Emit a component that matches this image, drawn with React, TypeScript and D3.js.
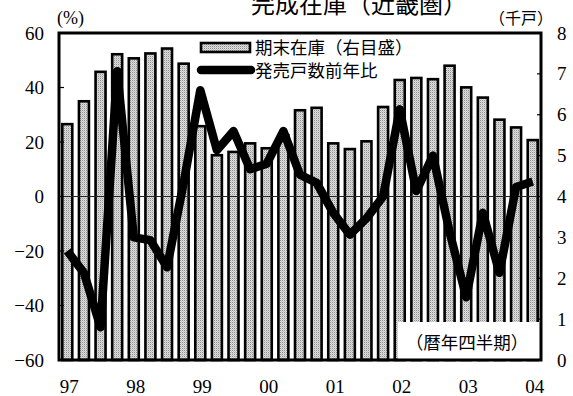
import React from "react";
import * as d3 from "d3";

const periods: string[] = [
  "97Q1","97Q2","97Q3","97Q4","98Q1","98Q2","98Q3","98Q4",
  "99Q1","99Q2","99Q3","99Q4","00Q1","00Q2","00Q3","00Q4",
  "01Q1","01Q2","01Q3","01Q4","02Q1","02Q2","02Q3","02Q4",
  "03Q1","03Q2","03Q3","03Q4","04Q1",
];
// 期末在庫（千戸, right axis）
const inventory: number[] = [
  5.77, 6.33, 7.05, 7.48, 7.38, 7.5, 7.62, 7.25,
  5.72, 5.01, 5.09, 5.3, 5.18, 5.5, 6.11, 6.17,
  5.3, 5.16, 5.35, 6.19, 6.85, 6.9, 6.87, 7.2,
  6.67, 6.42, 5.88, 5.69, 5.38,
];
// 発売戸数前年比（%, left axis）
const salesYoY: number[] = [
  -20, -28, -48, 46, -15, -16, -26, 5,
  39, 17, 24, 10, 12, 24, 8, 5,
  -6, -14, -8, 0, 32, 2, 15, -13,
  -37, -6, -28, 3.5, 5.5,
];
const yearLabels: string[] = ["97", "98", "99", "00", "01", "02", "03", "04"];
const leftTicks: number[] = [60, 40, 20, 0, -20, -40, -60];
const rightTicks: number[] = [0, 1, 2, 3, 4, 5, 6, 7, 8];

const W = 573, H = 396;
const L = 59, R = 541, T = 33, B = 360;
const serif = "'Liberation Serif', 'DejaVu Serif', serif";
const jp = "'Noto Sans CJK JP', sans-serif";

export default function App() {
  const x = d3.scaleBand<number>()
    .domain(d3.range(periods.length))
    .range([L, R])
    .paddingInner(0.4)
    .paddingOuter(0.2);
  const yL = d3.scaleLinear().domain([-60, 60]).range([B, T]);
  const yR = d3.scaleLinear().domain([0, 8]).range([B, T]);
  const cx = (i: number) => (x(i) as number) + x.bandwidth() / 2;
  const line = d3.line<number>()
    .x((_, i) => cx(i))
    .y((d) => yL(d))
    .curve(d3.curveLinear);
  const minus = (v: number) => (v < 0 ? "\u2212" + Math.abs(v) : String(v));

  return (
    <svg width={W} height={H} style={{ position: "absolute", left: 0, top: 0, background: "#fff" }}>
      <defs>
        <pattern id="dots" width={2} height={2} patternUnits="userSpaceOnUse">
          <rect width={2} height={2} fill="#dedede" />
          <rect width={1} height={1} fill="#909090" />
          <rect x={1} y={1} width={1} height={1} fill="#c4c4c4" />
        </pattern>
      </defs>
      {/* title */}
      <text x={359} y={13} fontFamily={jp} fontSize={24} textAnchor="middle" fill="#000">
        完成在庫（近畿圏）
      </text>
      {/* bars */}
      {inventory.map((v, i) => (
        <rect key={"b" + i} x={x(i)} y={yR(v)} width={x.bandwidth()} height={B - yR(v)}
          fill="url(#dots)" stroke="#000" strokeWidth={2.6} />
      ))}
      {/* zero line */}
      <line x1={L} x2={R} y1={yL(0)} y2={yL(0)} stroke="#222" strokeWidth={1} />
      {/* calendar quarter note box */}
      <rect x={398} y={322} width={R - 398} height={B - 322} fill="#fff" />
      <text x={467} y={349} fontFamily={jp} fontSize={17.5} textAnchor="middle" fill="#000">
        （暦年四半期）
      </text>
      {/* line */}
      <path d={line(salesYoY) || ""} fill="none" stroke="#000" strokeWidth={8.5} strokeLinejoin="round" />
      {/* legend */}
      <rect x={201} y={43} width={49} height={9} fill="url(#dots)" stroke="#000" strokeWidth={2.6} />
      <text x={255} y={54} fontFamily={jp} fontSize={17.5} fill="#000">期末在庫（右目盛）</text>
      <line x1={201} x2={251} y1={70} y2={70} stroke="#000" strokeWidth={8.5} strokeLinecap="round" />
      <text x={255} y={77} fontFamily={jp} fontSize={17.5} fill="#000">発売戸数前年比</text>
      {/* frame */}
      <rect x={L} y={T} width={R - L} height={B - T} fill="none" stroke="#000" strokeWidth={3} />
      {/* left ticks */}
      {leftTicks.map((t) => (
        <g key={"l" + t}>
          {t !== 60 && t !== -60 && (
            <line x1={L} x2={L + 5} y1={yL(t)} y2={yL(t)} stroke="#000" strokeWidth={1.2} />
          )}
          <text x={44} y={yL(t) + 6.5} fontFamily={serif} fontSize={19} textAnchor="end" fill="#000">
            {minus(t)}
          </text>
        </g>
      ))}
      {/* right ticks */}
      {rightTicks.map((t) => (
        <g key={"r" + t}>
          {t !== 0 && t !== 8 && (
            <line x1={R - 4} x2={R} y1={yR(t)} y2={yR(t)} stroke="#000" strokeWidth={1.2} />
          )}
          <text x={557} y={yR(t) + 6.5} fontFamily={serif} fontSize={19} textAnchor="start" fill="#000">
            {t}
          </text>
        </g>
      ))}
      {/* x labels */}
      {yearLabels.map((lab, k) => (
        <text key={"x" + k} x={cx(k * 4) + 2} y={393} fontFamily={serif} fontSize={19}
          textAnchor="middle" fill="#000">
          {lab}
        </text>
      ))}
      {/* unit labels */}
      <text x={57} y={24} fontFamily={serif} fontSize={18} fill="#000">(%)</text>
      <text x={521} y={24} fontFamily={jp} fontSize={16} textAnchor="middle" fill="#000">（千戸）</text>
    </svg>
  );
}
